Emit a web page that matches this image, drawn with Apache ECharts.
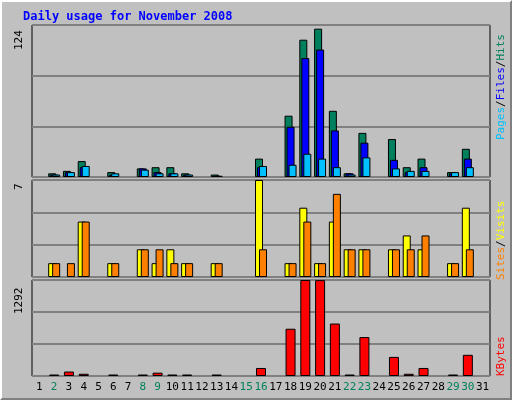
<!DOCTYPE html>
<html>
<head>
<meta charset="utf-8">
<script src="https://cdn.jsdelivr.net/npm/echarts@6/dist/echarts.min.js"></script>
<style>
  html, body { margin: 0; padding: 0; background: #c0c0c0; }
  #chart { width: 512px; height: 400px; box-sizing: border-box;
           border-top: 2px solid #fff; border-left: 2px solid #fff;
           border-right: 2px solid #808080; border-bottom: 2px solid #808080; }
</style>
</head>
<body>
<div id="chart"></div>
<script>
var days = [];
for (var d = 1; d <= 31; d++) days.push(String(d));
var weekends = [2, 8, 9, 15, 16, 22, 23, 29, 30];

var hits   = [0,3,5,13,0,4,0,7,8,8,3,0,2,0,0,15,0,50,112,121,54,3,36,0,31,8,15,0,4,23,0];
var files  = [0,2,4,8,0,2,0,7,4,3,2,0,1,0,0,8,0,41,97,104,38,3,28,0,14,4,8,0,3,15,0];
var pages  = [0,2,4,9,0,3,0,6,3,3,2,0,1,0,0,9,0,10,19,15,8,2,16,0,7,5,5,0,4,8,0];
var visits = [0,1,0,4,0,1,0,2,1,2,1,0,1,0,0,7,0,1,5,1,4,2,2,0,2,3,2,0,1,5,0];
var sites  = [0,1,1,4,0,1,0,2,2,1,1,0,1,0,0,2,0,1,4,1,6,2,2,0,2,2,3,0,1,2,0];
var kbytes = [0,20,60,30,0,20,0,20,45,20,20,0,20,0,0,108,0,636,1292,1290,706,20,524,0,257,30,108,0,20,285,0];

var maxHits = 124, maxVisits = 7, maxKB = 1292;

var chart = echarts.init(document.getElementById('chart'));
var L = 30, R = 20;
var grids = [
  { left: L, right: R, top: 23, height: 152 },
  { left: L, right: R, top: 178, height: 97 },
  { left: L, right: R, top: 278, height: 96 }
];
grids.forEach(function (g) {
  g.show = true; g.backgroundColor = '#c0c0c0'; g.borderColor = '#000'; g.borderWidth = 1;
});
function xAx(i, showLabel) {
  return {
    type: 'category', data: days, gridIndex: i,
    axisLine: { show: false }, axisTick: { show: false },
    axisLabel: {
      show: showLabel, interval: 0, margin: 6, fontFamily: 'DejaVu Sans Mono', fontSize: 11,
      color: function (v) { return weekends.indexOf(+v) >= 0 ? '#00805c' : '#000'; }
    }
  };
}
function yAx(i, max) {
  return {
    type: 'value', gridIndex: i, min: 0, max: max, interval: max / 3,
    axisLabel: { show: false }, axisLine: { show: false }, axisTick: { show: false },
    splitLine: { lineStyle: { color: '#808080', width: 2 } }
  };
}
var edge = { borderColor: '#000', borderWidth: 1 };
// zero days draw nothing
function nz(arr) { return arr.map(function (v) { return v === 0 ? '-' : v; }); }
function bar(name, data, color, i, w, gap) {
  return {
    name: name, type: 'bar', data: nz(data), xAxisIndex: i, yAxisIndex: i,
    barWidth: w, barGap: gap, animation: false,
    itemStyle: Object.assign({ color: color }, edge)
  };
}
var mono = 'DejaVu Sans Mono';
chart.setOption({
  backgroundColor: '#c0c0c0',
  title: { text: 'Daily usage for November 2008', left: 16, top: 4,
    textStyle: { color: '#0000ff', fontFamily: mono, fontWeight: 'bold', fontSize: 12 } },
  grid: grids,
  xAxis: [xAx(0, false), xAx(1, false), xAx(2, true)],
  yAxis: [yAx(0, maxHits), yAx(1, maxVisits), yAx(2, maxKB)],
  series: [
    bar('Hits', hits, '#00805c', 0, 8, '-75%'),
    bar('Files', files, '#0000ff', 0, 8, '-75%'),
    bar('Pages', pages, '#00c0ff', 0, 8, '-75%'),
    bar('Visits', visits, '#ffff00', 1, 8, '-50%'),
    bar('Sites', sites, '#ff8000', 1, 8, '-50%'),
    bar('KBytes', kbytes, '#ff0000', 2, 10, '0%')
  ],
  graphic: [
    { type: 'text', x: 12, y: 48, rotation: Math.PI / 2,
      style: { text: String(maxHits), fontFamily: mono, fontSize: 11, fill: '#000' } },
    { type: 'text', x: 12, y: 188, rotation: Math.PI / 2,
      style: { text: String(maxVisits), fontFamily: mono, fontSize: 11, fill: '#000' } },
    { type: 'text', x: 12, y: 312, rotation: Math.PI / 2,
      style: { text: String(maxKB), fontFamily: mono, fontSize: 11, fill: '#000' } },
    { type: 'text', x: 494, y: 138, rotation: Math.PI / 2,
      style: { text: '{p|Pages}{s|/}{f|Files}{s|/}{h|Hits}', fontFamily: mono, fontSize: 11,
        rich: { p: { fill: '#00c0ff' }, s: { fill: '#000' }, f: { fill: '#0000ff' }, h: { fill: '#00805c' } } } },
    { type: 'text', x: 494, y: 278, rotation: Math.PI / 2,
      style: { text: '{a|Sites}{s|/}{b|Visits}', fontFamily: mono, fontSize: 11,
        rich: { a: { fill: '#ff8000' }, s: { fill: '#000' }, b: { fill: '#ffff00' } } } },
    { type: 'text', x: 494, y: 374, rotation: Math.PI / 2,
      style: { text: 'KBytes', fontFamily: mono, fontSize: 11, fill: '#ff0000' } }
  ]
});
</script>
</body>
</html>
